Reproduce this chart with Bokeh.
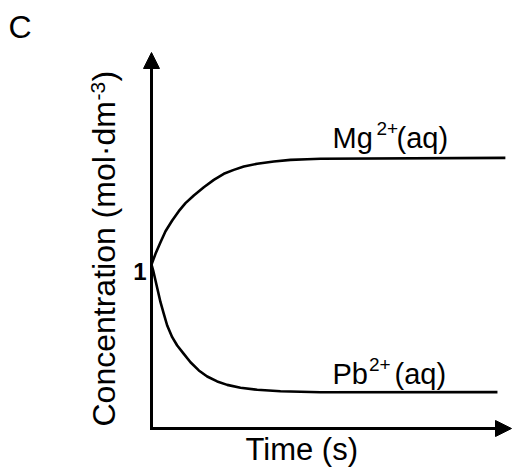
import math
from bokeh.plotting import figure
from bokeh.models import Range1d, Arrow, NormalHead
from bokeh.core.properties import value
from bokeh.embed import file_html
from bokeh.resources import INLINE

# ---- data (time in arbitrary units, concentration relative) ----
time_mg = [0.0, 0.111, 0.25, 0.389, 0.575, 0.758, 0.944, 1.175, 1.453, 1.731, 2.008,
           2.286, 2.564, 2.936, 3.397, 3.861, 4.325, 4.694, 9.83]
conc_mg = [1.0, 1.065, 1.136, 1.203, 1.268, 1.325, 1.374, 1.421, 1.471, 1.516, 1.553,
           1.577, 1.598, 1.614, 1.628, 1.638, 1.642, 1.645, 1.650]

time_pb = [0.0, 0.047, 0.111, 0.175, 0.25, 0.342, 0.436, 0.575, 0.714, 0.897, 1.083,
           1.314, 1.547, 1.825, 2.103, 2.472, 2.936, 3.583, 4.139, 4.694, 9.61]
conc_pb = [1.0, 0.963, 0.902, 0.841, 0.770, 0.699, 0.628, 0.557, 0.506, 0.455, 0.404,
           0.354, 0.317, 0.287, 0.266, 0.248, 0.236, 0.227, 0.224, 0.221, 0.222]

y_ticks = [1]
y_tick_labels = ["1"]
panel_label = "C"
x_title = "Time (s)"
y_title_main = "Concentration (mol\u00b7dm"
y_title_sup = "-3"
y_title_end = ")"
mg_label = ["Mg", "2+", "(aq)"]
pb_label = ["Pb", "2+", "(aq)"]

# ---- layout helpers (page pixel -> data) ----
W, H = 512, 470
OX, OY = 151, 428      # page pixel of origin
KT, KC = 36.0, 164.0   # pixels per unit
BL = 0.34              # baseline correction (fraction of font size)


def tx(px):
    return (px - OX) / KT


def cy(py):
    return (OY - py) / KC


p = figure(width=W, height=H, output_backend="svg", toolbar_location=None,
           x_range=Range1d(tx(0), tx(W)), y_range=Range1d(cy(H), cy(0)),
           x_axis_location=None, y_axis_location=None, min_border=0,
           background_fill_color="white", border_fill_color="white")
p.outline_line_color = None
p.grid.visible = False

FONT = value("Liberation Sans")


def htext(x_px, base_px, txt, fs, **kw):
    p.text(x=[tx(x_px)], y=[cy(base_px - BL * fs)], text=[txt], text_font=FONT,
           text_font_size=value(f"{fs}px"), text_baseline="alphabetic",
           text_color="black", **kw)


def vtext(base_px, y_px, txt, fs):
    p.text(x=[tx(base_px - BL * fs)], y=[cy(y_px)], text=[txt], angle=math.pi / 2,
           text_font=FONT, text_font_size=value(f"{fs}px"), text_align="left",
           text_baseline="alphabetic", text_color="black")


# axes as arrows
p.add_layout(Arrow(end=NormalHead(size=16, fill_color="black", line_color="black", line_width=1),
                   x_start=tx(149.5), y_start=0, x_end=tx(511), y_end=0,
                   line_width=3, line_color="black"))
p.add_layout(Arrow(end=NormalHead(size=16, fill_color="black", line_color="black", line_width=1),
                   x_start=0, y_start=cy(429.5), x_end=0, y_end=cy(52),
                   line_width=3, line_color="black"))

# curves
p.line(time_mg, conc_mg, line_width=2.6, line_color="black", line_join="round")
p.line(time_pb, conc_pb, line_width=2.6, line_color="black", line_join="round")

# tick label "1"
for yt, lab in zip(y_ticks, y_tick_labels):
    p.text(x=[tx(146)], y=[yt - (279 - 264 - BL * 24) / KC], text=[lab], text_font=FONT,
           text_font_size=value("24px"), text_font_style="bold", text_align="right",
           text_baseline="alphabetic", text_color="black")

# panel label
htext(8, 37, panel_label, 32, text_align="left")

# x title
htext(245, 460, x_title, 31, text_align="left")

# y title (rotated)
vtext(114.5, 426, y_title_main, 32)
vtext(105, 100, y_title_sup, 21)
vtext(114.5, 81, y_title_end, 32)

# series labels
for lab, base_y, xs in ((mg_label, 147.3, (332, 376, 396)),
                        (pb_label, 383.0, (332, 368.5, 394))):
    htext(xs[0], base_y, lab[0], 29, text_align="left")
    htext(xs[1], base_y - 13, lab[1], 19, text_align="left")
    htext(xs[2], base_y, lab[2], 29, text_align="left")

open("out.html", "w").write(file_html(p, INLINE))
